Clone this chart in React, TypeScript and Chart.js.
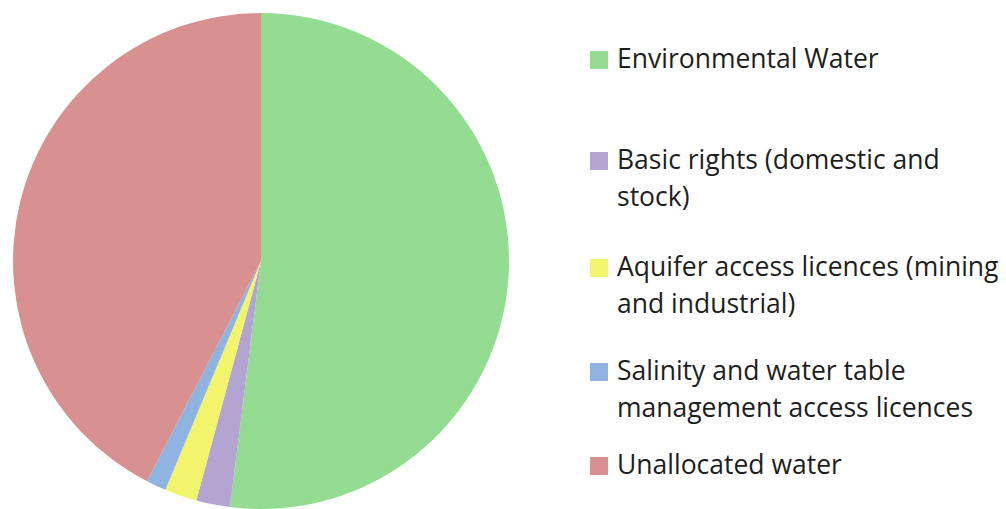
import React, { useEffect, useRef } from "react";
import { Chart, registerables } from "chart.js";

Chart.register(...registerables);

const categories: string[][] = [
  ["Environmental Water"],
  ["Basic rights (domestic and", "stock)"],
  ["Aquifer access licences (mining", "and industrial)"],
  ["Salinity and water table", "management access licences"],
  ["Unallocated water"],
];
const values: number[] = [52.0, 2.2, 2.1, 1.3, 42.4];
const colors: string[] = ["#93dc92", "#b4a4d2", "#f2f56c", "#8fb4e2", "#d99090"];

const legendTops = [40, 141, 248, 352, 446];
const FONT = "'Open Sans', sans-serif";

export default function App() {
  const ref = useRef<HTMLCanvasElement | null>(null);
  useEffect(() => {
    if (!ref.current) return;
    const chart = new Chart(ref.current, {
      type: "pie",
      data: {
        labels: categories.map((c) => c.join(" ")),
        datasets: [
          {
            data: values,
            backgroundColor: colors,
            borderWidth: 0,
          },
        ],
      },
      options: {
        animation: false,
        responsive: false,
        layout: { padding: 13 },
        plugins: { legend: { display: false }, tooltip: { enabled: false } },
      },
    });
    return () => chart.destroy();
  }, []);

  return (
    <div
      style={{
        position: "fixed",
        left: 0,
        top: 0,
        width: 1006,
        height: 509,
        overflow: "hidden",
        background: "#fff",
      }}
    >
      <canvas
        ref={ref}
        width={522}
        height={522}
        style={{ position: "absolute", left: 0, top: 0, width: 522, height: 522 }}
      />
      {categories.map((lines, i) => (
        <div
          key={i}
          style={{ position: "absolute", left: 590, top: legendTops[i] }}
        >
          <div
            style={{
              position: "absolute",
              left: 0,
              top: 11,
              width: 18,
              height: 18,
              background: colors[i],
            }}
          />
          <div
            style={{
              position: "absolute",
              left: 27,
              top: 0,
              whiteSpace: "nowrap",
              fontFamily: FONT,
              fontSize: 26.5,
              lineHeight: "37px",
              color: "#1e1e1e",
            }}
          >
            {lines.map((l, j) => (
              <div key={j}>{l}</div>
            ))}
          </div>
        </div>
      ))}
    </div>
  );
}
